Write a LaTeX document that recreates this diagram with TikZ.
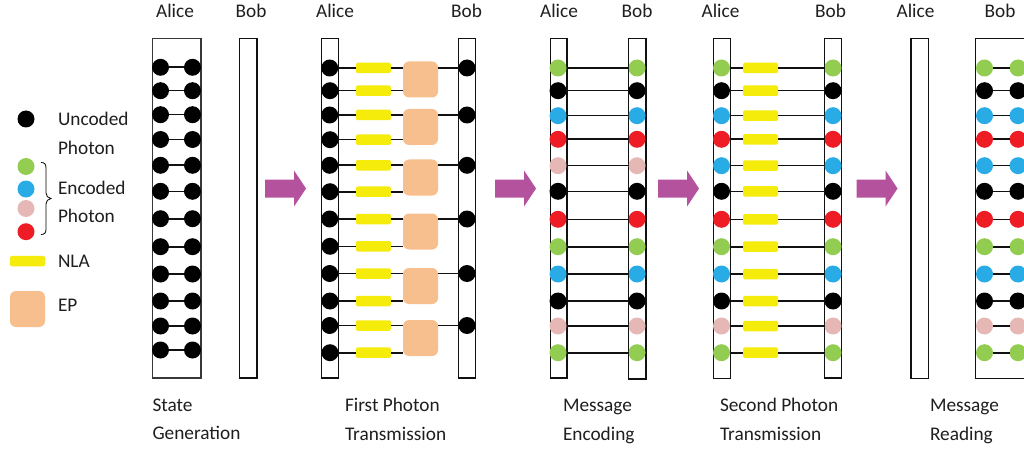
\documentclass[tikz,border=0pt]{standalone}
\usepackage{fontspec}
\setmainfont{Carlito}
\definecolor{cgreen}{HTML}{92CC50}
\definecolor{cblue}{HTML}{29ABE6}
\definecolor{cpink}{HTML}{E6B8B5}
\definecolor{cred}{HTML}{EE1C25}
\definecolor{cnla}{HTML}{F5EC0C}
\definecolor{cep}{HTML}{F8BF8E}
\definecolor{carrow}{HTML}{B5529D}
\definecolor{cline}{HTML}{111111}
\tikzset{
  x=1pt,y=-1pt,
  every node/.style={inner sep=0pt,outer sep=0pt},
  txt/.style={font=\fontsize{19.3}{22}\selectfont,text=black!88,anchor=base west},
  ctxt/.style={font=\fontsize{19.3}{22}\selectfont,text=black!88,anchor=base},
  panelbox/.style={draw=cline,line width=1.6pt,fill=white},
  dotn/.style={circle,minimum size=17pt},
  nla/.style={fill=cnla,rounded corners=1.5pt,minimum width=35pt,minimum height=10.5pt},
  ep/.style={fill=cep,rounded corners=6pt,minimum width=35pt,minimum height=36pt},
  link/.style={draw=cline,line width=1.6pt},
  fat/.style={fill=carrow,draw=none},
}
\newcommand{\fatarrow}[2]{% x start, x tip
  \fill[fat] (#1,179.5) -- (#2-12,179.5) -- (#2-12,170.5) -- (#2,188.5) -- (#2-12,206.5) -- (#2-12,197.5) -- (#1,197.5) -- cycle;}
\begin{document}
\begin{tikzpicture}
\clip (0,0) rectangle (1024,449);
\fill[white] (0,0) rectangle (1024,449);

% panel boxes
\draw[panelbox,draw=black!78] (152.5,38.5) rectangle (201,378);
\draw[panelbox] (239.5,38.5) rectangle (257,378);
\draw[panelbox] (321.5,38.5) rectangle (338.5,378);
\draw[panelbox] (458.5,38.5) rectangle (475.5,378);
\draw[panelbox] (550.5,38.5) rectangle (567,378);
\draw[panelbox] (628.5,38.5) rectangle (646,379);
\draw[panelbox] (713.5,38.5) rectangle (730.5,378.5);
\draw[panelbox] (824.5,38.5) rectangle (841.5,378);
\draw[panelbox] (911,38.5) rectangle (928.5,378.5);
\draw[panelbox] (975.5,38.5) rectangle (1035,378.5);

% panel 1: state generation
\foreach \i/\y in {1/67.3,2/90.7,3/114.7,4/139.5,5/165.3,6/191.3,7/218.7,8/246.7,9/274,10/301,11/326,12/350}{
  \node[dotn,fill=black] (a\i) at (160.5,\y) {};
  \node[dotn,fill=black] (b\i) at (192.5,\y) {};
  \draw[link] (a\i) -- (b\i);
}

% panel 2: first photon transmission
\node[ep] (e1) at (420.5,79.5) {};
\node[ep] (e2) at (420.5,127) {};
\node[ep] (e3) at (420.5,177.5) {};
\node[ep] (e4) at (420.5,231.5) {};
\node[ep] (e5) at (420.5,286) {};
\node[ep] (e6) at (420.5,338) {};
\foreach \i/\y/\e in {1/68/1,3/115/2,5/165.3/3,7/219/4,9/273.5/5,11/325.5/6}{
  \node[dotn,fill=black] (c\i) at (329.7,\y) {};
  \node[dotn,fill=black] (d\i) at (467,\y) {};
  \node[nla] (n\i) at (373.3,\y) {};
  \draw[link] (c\i) -- (n\i);
  \draw[link] (n\i) -- (n\i -| e\e.west);
  \draw[link] (d\i -| e\e.east) -- (d\i);
}
\foreach \i/\y/\e in {2/90.7/1,4/139.7/2,6/191.7/3,8/246.3/4,10/301/5,12/352.7/6}{
  \node[dotn,fill=black] (c\i) at (330,\y) {};
  \node[nla] (n\i) at (373.3,\y) {};
  \draw[link] (c\i) -- (n\i);
  \draw[link] (n\i) -- (n\i -| e\e.west);
}

% panels 3, 4, 5
\foreach \i/\y/\c/\k in {1/68/cgreen/cgreen,2/90.7/black/black,3/115.7/cblue/cblue,4/139.3/cred/cred,
   5/165.7/cpink/cblue,6/191.3/black/black,7/219.3/cred/cred,8/246.7/cgreen/cgreen,
   9/274/cblue/cblue,10/301/black/black,11/326/cpink/cpink,12/352.7/cgreen/cgreen}{
  \node[dotn,fill=\c] (f\i) at (558,\y) {};
  \node[dotn,fill=\c] (g\i) at (637,\y) {};
  \draw[link] (f\i) -- (g\i);
  \node[dotn,fill=\k] (h\i) at (721.5,\y) {};
  \node[dotn,fill=\k] (j\i) at (833,\y) {};
  \node[nla] (m\i) at (760.5,\y) {};
  \draw[link] (h\i) -- (m\i);
  \draw[link] (m\i) -- (j\i);
  \node[dotn,fill=\k] (p\i) at (984.5,\y) {};
  \node[dotn,fill=\k] (q\i) at (1018,\y) {};
  \draw[link] (p\i) -- (q\i);
}

% arrows
\fatarrow{265}{306}
\fatarrow{495}{536}
\fatarrow{658}{699}
\fatarrow{856.5}{897.5}

% names
\node[ctxt] (t1) at (175,18) {Alice};
\node[ctxt] (t2) at (251,18) {Bob};
\node[ctxt] (t3) at (335,18) {Alice};
\node[ctxt] (t4) at (466.5,18) {Bob};
\node[ctxt] (t5) at (559,18) {Alice};
\node[ctxt] (t6) at (637,18) {Bob};
\node[ctxt] (t7) at (720.5,18) {Alice};
\node[ctxt] (t8) at (830.5,18) {Bob};
\node[ctxt] (t9) at (915.5,18) {Alice};
\node[ctxt] (t10) at (1000,18) {Bob};

% captions
\node[txt] (s1) at (152.5,411) {State};
\node[txt] (s2) at (152.5,439) {Generation};
\node[txt] (s3) at (345,411) {First Photon};
\node[txt] (s4) at (345,440) {Transmission};
\node[txt] (s5) at (563,411) {Message};
\node[txt] (s6) at (563,440) {Encoding};
\node[txt] (s7) at (720,411) {Second Photon};
\node[txt] (s8) at (720,440) {Transmission};
\node[txt] (s9) at (930,411) {Message};
\node[txt] (s10) at (930,440) {Reading};

% legend
\node[dotn,fill=black] (l1) at (26,119) {};
\node[dotn,fill=cgreen] (l2) at (26,166.5) {};
\node[dotn,fill=cblue] (l3) at (26,189) {};
\node[dotn,fill=cpink] (l4) at (26,208.5) {};
\node[dotn,fill=cred] (l5) at (26,231.7) {};
\draw[black,line width=0.8pt] (41,162.5) .. controls (44.5,162.5) and (46,164) .. (46,168)
  -- (46,193) .. controls (46,196) and (48,198) .. (51,198.5)
  .. controls (48,199) and (46,201) .. (46,204) -- (46,229)
  .. controls (46,233) and (44.5,234.5) .. (41,234.5);
\node[txt] (u1) at (58,126) {Uncoded};
\node[txt] (u2) at (58,155) {Photon};
\node[txt] (u3) at (58,194) {Encoded};
\node[txt] (u4) at (58,222.5) {Photon};
\node[nla] (l6) at (27.5,261) {};
\node[txt] (u5) at (58,267) {NLA};
\node[ep] (l7) at (27.5,309) {};
\node[txt] (u6) at (58,311) {EP};
\end{tikzpicture}
\end{document}
